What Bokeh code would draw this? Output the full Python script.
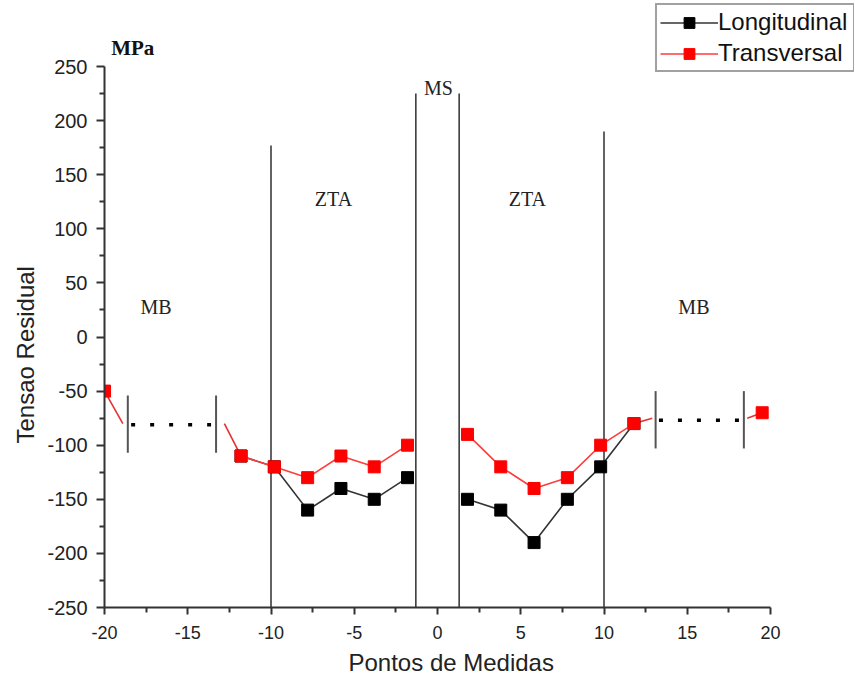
from bokeh.plotting import figure
from bokeh.models import Range1d, Legend, LegendItem, Label, FixedTicker, Title
from bokeh.embed import file_html
from bokeh.resources import INLINE

# ---- data ----
pts_left = [-11.8, -9.8, -7.8, -5.8, -3.8, -1.8]
pts_right = [1.8, 3.8, 5.8, 7.8, 9.8, 11.8]
long_left = [-110, -120, -160, -140, -150, -130]
long_right = [-150, -160, -190, -150, -120, -80]
trans_left = [-110, -120, -130, -110, -120, -100]
trans_right = [-90, -120, -140, -130, -100, -80]
trans_end_x = [-20, 19.5]
trans_end_y = [-50, -70]

# axis-break stubs (red line running into the break)
stub_x0 = [-20, -12.8, 11.8, 18.6]
stub_y0 = [-50, -80, -80, -75]
stub_x1 = [-18.9, -11.8, 12.9, 19.5]
stub_y1 = [-80, -110, -75, -70]

# break markers and dotted gaps
break_x = [-18.6, -13.3, 13.1, 18.4]
break_lo = [-107, -107, -103, -103]
break_hi = [-54, -54, -50, -50]
gap_x0 = [-18.4, 13.3]
gap_x1 = [-13.6, 18.2]
gap_y = [-81, -77]

# zone boundaries
zone_x = [-10, -1.3, 1.3, 10]
zone_top = [177, 225, 225, 190]
zone_bottom = [-250, -250, -250, -250]

zone_names = ["MB", "ZTA", "MS", "ZTA", "MB"]
zone_lx = [-16.9, -6.25, 0.05, 5.4, 15.4]
zone_ly = [28, 128, 230, 128, 28]

x_ticks = [-20, -15, -10, -5, 0, 5, 10, 15, 20]
y_ticks = [-250, -200, -150, -100, -50, 0, 50, 100, 150, 200, 250]

# ---- layout (pixels) ----
W, H = 854, 684
frame_left, frame_bottom = 104, 607
axis_right_px, axis_top_px = 770, 66
x_scale = (20 - (-20)) / (axis_right_px - frame_left)
y_scale = (250 - (-250)) / (frame_bottom - axis_top_px)
x_end = 20 + (W - axis_right_px) * x_scale
y_end = 250 + axis_top_px * y_scale

p = figure(width=W, height=H, output_backend="svg", toolbar_location=None,
           x_range=Range1d(-20, x_end), y_range=Range1d(-250, y_end),
           min_border_left=frame_left, min_border_right=0, min_border_top=0,
           min_border_bottom=H - frame_bottom)
p.xgrid.visible = False
p.ygrid.visible = False
p.outline_line_color = None
p.background_fill_color = "white"
p.border_fill_color = "white"

for ax in (p.xaxis[0], p.yaxis[0]):
    ax.axis_line_color = "#333333"
    ax.axis_line_width = 2
    ax.major_tick_line_color = "#333333"
    ax.major_tick_line_width = 2
    ax.minor_tick_line_color = "#333333"
    ax.minor_tick_line_width = 2
    ax.major_tick_in = 0
    ax.minor_tick_in = 0
    ax.major_label_text_font = "Liberation Sans"
    ax.major_label_text_color = "#222222"

p.xaxis.bounds = (-20, 20)
p.yaxis.bounds = (-250, 250)
p.xaxis.ticker = FixedTicker(ticks=x_ticks, minor_ticks=[v + 2.5 for v in x_ticks[:-1]])
p.yaxis.ticker = FixedTicker(ticks=y_ticks, minor_ticks=[v + 25 for v in y_ticks[:-1]])
p.xaxis.major_label_overrides = {v: str(v) for v in x_ticks}
p.yaxis.major_label_overrides = {v: str(v) for v in y_ticks}
p.xaxis.major_tick_out = 7
p.xaxis.minor_tick_out = 5
p.yaxis.major_tick_out = 8
p.yaxis.minor_tick_out = 5
p.xaxis.major_label_text_font_size = "18px"
p.yaxis.major_label_text_font_size = "20px"
p.xaxis.major_label_standoff = 11
p.yaxis.major_label_standoff = 9

# axis titles, positioned along the drawn axis extent (not the whole frame)
x_title = Title(text="Pontos de Medidas", align="left", offset=244, vertical_align="bottom",
                standoff=10, text_font="Liberation Sans", text_font_size="24px",
                text_font_style="normal", text_color="#222222")
y_title = Title(text="Tensao Residual", align="left", offset=164, vertical_align="bottom",
                standoff=12, text_font="Liberation Sans", text_font_size="24px",
                text_font_style="normal", text_color="#222222")
p.add_layout(x_title, "below")
p.add_layout(y_title, "left")

# zone lines
p.segment(x0=zone_x, y0=zone_bottom, x1=zone_x, y1=zone_top, line_color="#222222", line_width=1.4)
# break markers
p.segment(x0=break_x, y0=break_lo, x1=break_x, y1=break_hi, line_color="#555555", line_width=2)
p.segment(x0=gap_x0, y0=gap_y, x1=gap_x1, y1=gap_y, line_color="black", line_width=3.5, line_dash="4 15")
# red stubs
p.segment(x0=stub_x0, y0=stub_y0, x1=stub_x1, y1=stub_y1, line_color="#e8302f", line_width=1.6)

# Longitudinal
lk1 = p.line(pts_left, long_left, line_color="#333333", line_width=1.6)
lk2 = p.line(pts_right, long_right, line_color="#333333", line_width=1.6)
sk1 = p.scatter(pts_left, long_left, marker="square", size=12, fill_color="black", line_color="black")
sk2 = p.scatter(pts_right, long_right, marker="square", size=12, fill_color="black", line_color="black")

# Transversal
lr1 = p.line(pts_left, trans_left, line_color="#ff3b3b", line_width=1.6)
lr2 = p.line(pts_right, trans_right, line_color="#ff3b3b", line_width=1.6)
sr1 = p.scatter(pts_left, trans_left, marker="square", size=12, fill_color="#ff0000", line_color="#ff0000")
sr2 = p.scatter(pts_right, trans_right, marker="square", size=12, fill_color="#ff0000", line_color="#ff0000")
sr3 = p.scatter(trans_end_x, trans_end_y, marker="square", size=12, fill_color="#ff0000", line_color="#ff0000")

for name, lx, ly in zip(zone_names, zone_lx, zone_ly):
    p.add_layout(Label(x=lx, y=ly, text=name, text_font="Liberation Serif", text_font_size="20px",
                       text_align="center", text_baseline="middle", text_color="#222222"))

p.add_layout(Label(x=-19.6, y=250, y_offset=19, text="MPa", text_font="Liberation Serif",
                   text_font_size="21px", text_font_style="bold", text_baseline="middle",
                   text_color="#111111"))

legend = Legend(items=[LegendItem(label="Longitudinal", renderers=[lk1, sk1]),
                       LegendItem(label="Transversal", renderers=[lr1, sr1])],
                location=(655 - frame_left, frame_bottom - 72), orientation="vertical",
                label_text_font="Liberation Sans", label_text_font_size="24px",
                label_text_color="#111111", label_standoff=0, label_width=132,
                glyph_width=58, glyph_height=27, label_height=27,
                spacing=3, padding=3, margin=0,
                border_line_color="#444444", border_line_width=2,
                background_fill_alpha=1.0)
p.add_layout(legend, "center")

open("out.html", "w").write(file_html(p, INLINE))
